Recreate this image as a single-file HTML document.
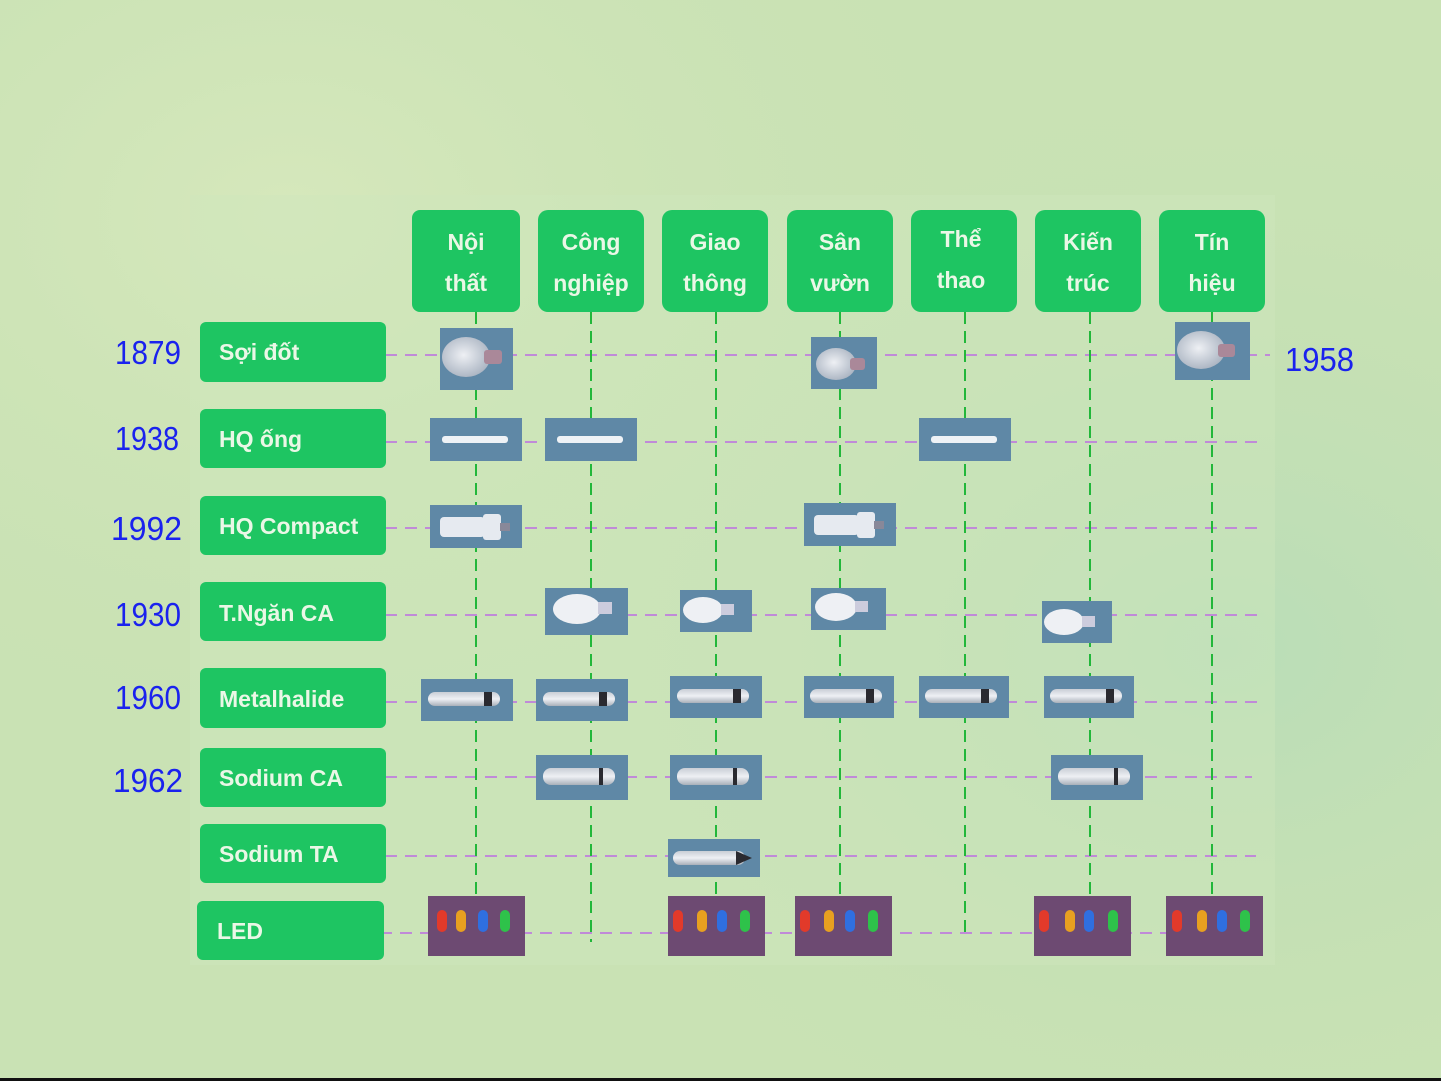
<!DOCTYPE html>
<html><head><meta charset="utf-8"><style>
html,body{margin:0;padding:0;width:1441px;height:1081px;overflow:hidden;background:#c9e2b4}
svg{display:block}
</style></head><body>
<svg width="1441" height="1081" viewBox="0 0 1441 1081" xmlns="http://www.w3.org/2000/svg">
<defs>
<radialGradient id="bg1" cx="0.2" cy="0.2" r="0.6"><stop offset="0" stop-color="#d6e8bc"/><stop offset="1" stop-color="#c6e0b2" stop-opacity="0"/></radialGradient>
<radialGradient id="bg2" cx="0.85" cy="0.6" r="0.5"><stop offset="0" stop-color="#b9ddb8"/><stop offset="1" stop-color="#c6e0b2" stop-opacity="0"/></radialGradient>
<linearGradient id="tube" x1="0" y1="0" x2="0" y2="1"><stop offset="0" stop-color="#c9ced6"/><stop offset="0.5" stop-color="#eef0f4"/><stop offset="1" stop-color="#a9b0ba"/></linearGradient>
<radialGradient id="bulb" cx="0.45" cy="0.45" r="0.6"><stop offset="0" stop-color="#eef0f4"/><stop offset="1" stop-color="#a8b2c0"/></radialGradient>
</defs>
<rect width="1441" height="1081" fill="#c9e2b4"/>
<rect width="1441" height="1081" fill="url(#bg1)"/>
<rect width="1441" height="1081" fill="url(#bg2)"/>
<rect x="190" y="195" width="1085" height="770" fill="#cfe6bd" opacity="0.45"/>
<rect x="0" y="1078" width="1441" height="3" fill="#111"/>

<!-- purple horizontal dashed -->
<g stroke="#c08ad8" stroke-width="2" stroke-dasharray="12,8">
<line x1="385" y1="355" x2="1270" y2="355"/>
<line x1="385" y1="442" x2="1262" y2="442"/>
<line x1="385" y1="528" x2="1262" y2="528"/>
<line x1="385" y1="615" x2="1262" y2="615"/>
<line x1="385" y1="702" x2="1262" y2="702"/>
<line x1="385" y1="777" x2="1252" y2="777"/>
<line x1="385" y1="856" x2="1256" y2="856"/>
<line x1="360" y1="933" x2="1262" y2="933"/>
</g>
<!-- green vertical dashed -->
<g stroke="#22b73a" stroke-width="2" stroke-dasharray="12,7">
<line x1="476" y1="312" x2="476" y2="900"/>
<line x1="591" y1="312" x2="591" y2="942"/>
<line x1="716" y1="312" x2="716" y2="900"/>
<line x1="840" y1="312" x2="840" y2="900"/>
<line x1="965" y1="312" x2="965" y2="935"/>
<line x1="1090" y1="312" x2="1090" y2="900"/>
<line x1="1212" y1="312" x2="1212" y2="900"/>
</g>

<!-- header boxes -->
<g fill="#1ec562">
<rect x="412" y="210" width="108" height="102" rx="8"/>
<rect x="538" y="210" width="106" height="102" rx="10"/>
<rect x="662" y="210" width="106" height="102" rx="10"/>
<rect x="787" y="210" width="106" height="102" rx="10"/>
<rect x="911" y="210" width="106" height="102" rx="10"/>
<rect x="1035" y="210" width="106" height="102" rx="10"/>
<rect x="1159" y="210" width="106" height="102" rx="10"/>
</g>
<g font-family="Liberation Sans, sans-serif" font-weight="bold" font-size="23" fill="#eaf7e6" text-anchor="middle">
<text x="466" y="250">Nội</text><text x="466" y="291">thất</text>
<text x="591" y="250">Công</text><text x="591" y="291">nghiệp</text>
<text x="715" y="250">Giao</text><text x="715" y="291">thông</text>
<text x="840" y="250">Sân</text><text x="840" y="291">vườn</text>
<text x="961" y="247">Thể</text><text x="961" y="288">thao</text>
<text x="1088" y="250">Kiến</text><text x="1088" y="291">trúc</text>
<text x="1212" y="250">Tín</text><text x="1212" y="291">hiệu</text>
</g>

<!-- row labels -->
<g fill="#1ec562">
<rect x="200" y="322" width="186" height="60" rx="6"/>
<rect x="200" y="409" width="186" height="59" rx="6"/>
<rect x="200" y="496" width="186" height="59" rx="6"/>
<rect x="200" y="582" width="186" height="59" rx="6"/>
<rect x="200" y="668" width="186" height="60" rx="6"/>
<rect x="200" y="748" width="186" height="59" rx="6"/>
<rect x="200" y="824" width="186" height="59" rx="6"/>
<rect x="197" y="901" width="187" height="59" rx="6"/>
</g>
<g font-family="Liberation Sans, sans-serif" font-weight="bold" font-size="23" fill="#eaf7e6">
<text x="219" y="360">Sợi đốt</text>
<text x="219" y="447">HQ ống</text>
<text x="219" y="534">HQ Compact</text>
<text x="219" y="621">T.Ngăn CA</text>
<text x="219" y="707">Metalhalide</text>
<text x="219" y="786">Sodium CA</text>
<text x="219" y="862">Sodium TA</text>
<text x="217" y="939">LED</text>
</g>
<g font-family="Liberation Sans Narrow, Liberation Sans, sans-serif" font-size="33" fill="#1a22ee" textLength="66">
<text x="115" y="364" textLength="66" lengthAdjust="spacingAndGlyphs">1879</text>
<text x="115" y="450" textLength="64" lengthAdjust="spacingAndGlyphs">1938</text>
<text x="111" y="540" textLength="71" lengthAdjust="spacingAndGlyphs">1992</text>
<text x="115" y="626" textLength="66" lengthAdjust="spacingAndGlyphs">1930</text>
<text x="115" y="709" textLength="66" lengthAdjust="spacingAndGlyphs">1960</text>
<text x="113" y="792" textLength="70" lengthAdjust="spacingAndGlyphs">1962</text>
<text x="1285" y="371" textLength="69" lengthAdjust="spacingAndGlyphs">1958</text>
</g>

<!-- image boxes -->
<g fill="#5f88a6">
<rect x="440" y="328" width="73" height="62"/>
<rect x="811" y="337" width="66" height="52"/>
<rect x="1175" y="322" width="75" height="58"/>
<rect x="430" y="418" width="92" height="43"/>
<rect x="545" y="418" width="92" height="43"/>
<rect x="919" y="418" width="92" height="43"/>
<rect x="430" y="505" width="92" height="43"/>
<rect x="804" y="503" width="92" height="43"/>
<rect x="545" y="588" width="83" height="47"/>
<rect x="680" y="590" width="72" height="42"/>
<rect x="811" y="588" width="75" height="42"/>
<rect x="1042" y="601" width="70" height="42"/>
<rect x="421" y="679" width="92" height="42"/>
<rect x="536" y="679" width="92" height="42"/>
<rect x="670" y="676" width="92" height="42"/>
<rect x="804" y="676" width="90" height="42"/>
<rect x="919" y="676" width="90" height="42"/>
<rect x="1044" y="676" width="90" height="42"/>
<rect x="536" y="755" width="92" height="45"/>
<rect x="670" y="755" width="92" height="45"/>
<rect x="1051" y="755" width="92" height="45"/>
<rect x="668" y="839" width="92" height="38"/>
</g>
<!-- incandescent bulbs -->
<g fill="url(#bulb)">
<ellipse cx="466" cy="357" rx="24" ry="20"/><rect x="484" y="350" width="18" height="14" rx="3" fill="#a89"/>
<ellipse cx="836" cy="364" rx="20" ry="16"/><rect x="850" y="358" width="15" height="12" rx="3" fill="#a89"/>
<ellipse cx="1201" cy="350" rx="24" ry="19"/><rect x="1218" y="344" width="17" height="13" rx="3" fill="#a89"/>
</g>
<!-- fluorescent tubes -->
<g fill="#eef2f6">
<rect x="442" y="436" width="66" height="7" rx="3"/>
<rect x="557" y="436" width="66" height="7" rx="3"/>
<rect x="931" y="436" width="66" height="7" rx="3"/>
</g>
<!-- compact -->
<g fill="#e6eaf0">
<rect x="440" y="517" width="45" height="20" rx="4"/><rect x="483" y="514" width="18" height="26" rx="3"/><rect x="500" y="523" width="10" height="8" fill="#889"/>
<rect x="814" y="515" width="45" height="20" rx="4"/><rect x="857" y="512" width="18" height="26" rx="3"/><rect x="874" y="521" width="10" height="8" fill="#889"/>
</g>
<!-- ellipsoid bulbs -->
<g fill="#eef0f4">
<ellipse cx="577" cy="609" rx="24" ry="15"/><rect x="598" y="602" width="14" height="12" fill="#ccd"/>
<ellipse cx="703" cy="610" rx="20" ry="13"/><rect x="721" y="604" width="13" height="11" fill="#ccd"/>
<ellipse cx="836" cy="607" rx="21" ry="14"/><rect x="855" y="601" width="13" height="11" fill="#ccd"/>
<ellipse cx="1064" cy="622" rx="20" ry="13"/><rect x="1082" y="616" width="13" height="11" fill="#ccd"/>
</g>
<!-- metal halide / sodium tubes -->
<g fill="url(#tube)">
<rect x="428" y="692" width="72" height="14" rx="7"/>
<rect x="543" y="692" width="72" height="14" rx="7"/>
<rect x="677" y="689" width="72" height="14" rx="7"/>
<rect x="810" y="689" width="72" height="14" rx="7"/>
<rect x="925" y="689" width="72" height="14" rx="7"/>
<rect x="1050" y="689" width="72" height="14" rx="7"/>
<rect x="543" y="768" width="72" height="17" rx="8"/>
<rect x="677" y="768" width="72" height="17" rx="8"/>
<rect x="1058" y="768" width="72" height="17" rx="8"/>
<rect x="673" y="851" width="72" height="14" rx="7"/>
</g>
<g fill="#2a2a30">
<rect x="484" y="692" width="8" height="14"/><rect x="599" y="692" width="8" height="14"/><rect x="733" y="689" width="8" height="14"/>
<rect x="866" y="689" width="8" height="14"/><rect x="981" y="689" width="8" height="14"/><rect x="1106" y="689" width="8" height="14"/>
<rect x="599" y="768" width="4" height="17"/><rect x="733" y="768" width="4" height="17"/><rect x="1114" y="768" width="4" height="17"/>
<polygon points="736,851 752,858 736,865"/>
</g>

<!-- LEDs -->
<g fill="#6d4a72">
<rect x="428" y="896" width="97" height="60"/>
<rect x="668" y="896" width="97" height="60"/>
<rect x="795" y="896" width="97" height="60"/>
<rect x="1034" y="896" width="97" height="60"/>
<rect x="1166" y="896" width="97" height="60"/>
</g>
<g id="leds">
<g transform="translate(428,896)">
<rect x="9" y="14" width="10" height="22" rx="5" fill="#e23a2a"/><rect x="28" y="14" width="10" height="22" rx="5" fill="#e8a020"/><rect x="50" y="14" width="10" height="22" rx="5" fill="#2f6fe0"/><rect x="72" y="14" width="10" height="22" rx="5" fill="#2ec24a"/>
</g>
<g transform="translate(668,896)">
<rect x="5" y="14" width="10" height="22" rx="5" fill="#e23a2a"/><rect x="29" y="14" width="10" height="22" rx="5" fill="#e8a020"/><rect x="49" y="14" width="10" height="22" rx="5" fill="#2f6fe0"/><rect x="72" y="14" width="10" height="22" rx="5" fill="#2ec24a"/>
</g>
<g transform="translate(795,896)">
<rect x="5" y="14" width="10" height="22" rx="5" fill="#e23a2a"/><rect x="29" y="14" width="10" height="22" rx="5" fill="#e8a020"/><rect x="50" y="14" width="10" height="22" rx="5" fill="#2f6fe0"/><rect x="73" y="14" width="10" height="22" rx="5" fill="#2ec24a"/>
</g>
<g transform="translate(1034,896)">
<rect x="5" y="14" width="10" height="22" rx="5" fill="#e23a2a"/><rect x="31" y="14" width="10" height="22" rx="5" fill="#e8a020"/><rect x="50" y="14" width="10" height="22" rx="5" fill="#2f6fe0"/><rect x="74" y="14" width="10" height="22" rx="5" fill="#2ec24a"/>
</g>
<g transform="translate(1166,896)">
<rect x="6" y="14" width="10" height="22" rx="5" fill="#e23a2a"/><rect x="31" y="14" width="10" height="22" rx="5" fill="#e8a020"/><rect x="51" y="14" width="10" height="22" rx="5" fill="#2f6fe0"/><rect x="74" y="14" width="10" height="22" rx="5" fill="#2ec24a"/>
</g>
</g>
</svg>
</body></html>
